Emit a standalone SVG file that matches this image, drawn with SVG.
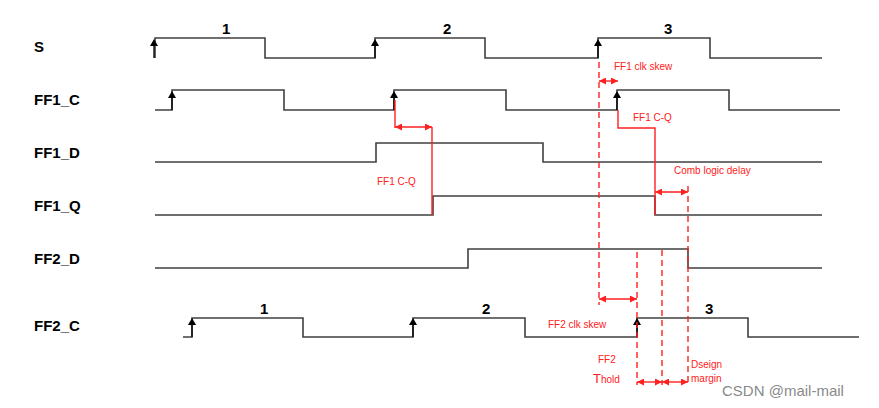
<svg xmlns="http://www.w3.org/2000/svg" width="879" height="408" viewBox="0 0 879 408">
<style>
.sig{fill:none;stroke:#404040;stroke-width:1.6}
.lbl{font-family:"Liberation Sans",Arial,sans-serif;font-weight:bold;font-size:15px;fill:#000}
.num{font-family:"Liberation Sans",Arial,sans-serif;font-weight:bold;font-size:15px;fill:#000}
.rt{font-family:"Liberation Sans",Arial,sans-serif;font-size:10px;fill:#ff2020}
.rs{fill:none;stroke:#ff2020;stroke-width:1.4}
.rd{fill:none;stroke:#ff2020;stroke-width:1.4;stroke-dasharray:6,4}
.ra{fill:none;stroke:#ff2020;stroke-width:1.4;marker-start:url(#ah);marker-end:url(#ah)}
.clk{stroke:#000;stroke-width:1.3;fill:#000}
</style>
<defs>
<marker id="ah" viewBox="0 0 10 10" refX="10" refY="5" markerWidth="7" markerHeight="7" orient="auto-start-reverse" markerUnits="userSpaceOnUse"><path d="M0,0L10,5L0,10z" fill="#ff2020"/></marker>
<g id="ck"><line x1="0" y1="0" x2="0" y2="-15" stroke="#000" stroke-width="1.3"/><path d="M-4,-12L0,-19L4,-12z" fill="#000"/></g>
</defs>
<rect width="879" height="408" fill="#fff"/>
<g id="S"><text class="lbl" x="34" y="52">S</text>
<path class="sig" d="M155,58V38H265V58H375V38H485V58H598V38H710V58H822"/>
<use href="#ck" x="154" y="58"/><use href="#ck" x="375" y="58"/><use href="#ck" x="598" y="58"/>
<text class="num" x="222" y="34">1</text><text class="num" x="443" y="34">2</text><text class="num" x="664" y="34">3</text></g>
<g id="FF1_C"><text class="lbl" x="34" y="105">FF1_C</text>
<path class="sig" d="M155,110H172V90H284V110H394V90H506V110H617V90H729V110H840"/>
<use href="#ck" x="172" y="110"/><use href="#ck" x="394" y="110"/><use href="#ck" x="617" y="110"/></g>
<g id="FF1_D"><text class="lbl" x="34" y="158">FF1_D</text>
<path class="sig" d="M155,162H376V143H543V162H822"/></g>
<g id="FF1_Q"><text class="lbl" x="34" y="211">FF1_Q</text>
<path class="sig" d="M155,215H433V196H655V215H822"/></g>
<g id="FF2_D"><text class="lbl" x="34" y="264">FF2_D</text>
<path class="sig" d="M155,268H468V249H688V268H822"/></g>
<g id="FF2_C"><text class="lbl" x="34" y="331">FF2_C</text>
<path class="sig" d="M183,337H192V318H303V337H413V318H525V337H637V318H748V337H859"/>
<use href="#ck" x="192" y="337"/><use href="#ck" x="413" y="337"/><use href="#ck" x="637" y="337"/>
<text class="num" x="260" y="314">1</text><text class="num" x="482" y="314">2</text><text class="num" x="705" y="314">3</text></g>
<g id="connectors">
<line class="rd" x1="599" y1="62" x2="599" y2="305"/>
<line class="ra" x1="599" y1="81" x2="618" y2="81"/>
<path class="rs" d="M618,110V128H655V215"/>
<line class="ra" x1="655" y1="192" x2="688" y2="192"/>
<line class="rd" x1="688" y1="186" x2="688" y2="382"/>
<path class="rs" d="M395,100V128"/>
<line class="ra" x1="395" y1="127" x2="432" y2="127"/>
<path class="rs" d="M432,127V215"/>
<line class="ra" x1="599" y1="299" x2="637" y2="299"/>
<line class="rd" x1="637" y1="252" x2="637" y2="385"/>
<line class="rd" x1="662" y1="250" x2="662" y2="385"/>
<line class="ra" x1="637" y1="382" x2="662" y2="382"/>
<line class="ra" x1="662" y1="382" x2="688" y2="382"/>
</g>
<g id="labels">
<text class="rt" x="614" y="70">FF1 clk skew</text>
<text class="rt" x="633" y="121">FF1 C-Q</text>
<text class="rt" x="674" y="174">Comb logic delay</text>
<text class="rt" x="377" y="185">FF1 C-Q</text>
<text class="rt" x="548" y="328">FF2 clk skew</text>
<text class="rt" x="598" y="363">FF2</text>
<text class="rt" x="593" y="383"><tspan font-size="13">T</tspan>hold</text>
<text class="rt" x="691" y="368">Dseign</text>
<text class="rt" x="691" y="382">margin</text>
<text x="722" y="396" font-family="Liberation Sans,Arial,sans-serif" font-size="15" fill="#8a8a8a">CSDN @mail-mail</text>
</g>
</svg>
